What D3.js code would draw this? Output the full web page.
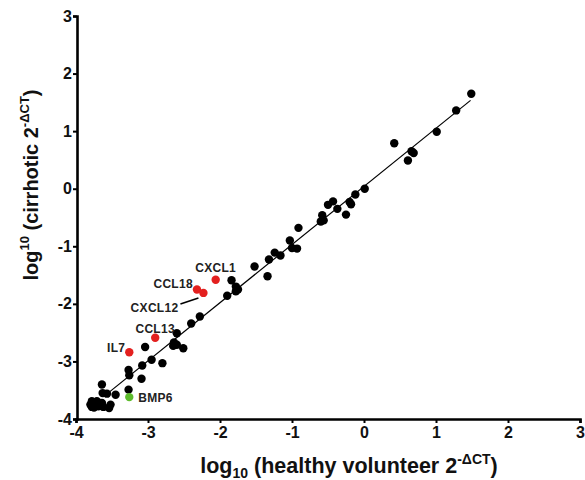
<!DOCTYPE html>
<html>
<head>
<meta charset="utf-8">
<script src="https://cdn.jsdelivr.net/npm/d3@7"></script>
<style>
    body { margin: 0; background: #fff; }
    svg { font-family: "Liberation Sans", Arial, sans-serif; font-weight: bold; }
</style>
</head>
<body>
<script>
// log10 values: healthy volunteer (x) vs cirrhotic (y)
const genesX = [1.49, 1.28, 1.01, 0.42, 0.66, 0.69, 0.61, 0.01, -0.12, -0.20, -0.18, -0.25, -0.37, -0.43, -0.50,
    -0.58, -0.60, -0.56, -0.91, -1.03, -1.00, -0.93, -1.24, -1.16, -1.32, -1.52, -1.34, -1.84, -1.78, -1.75,
    -1.78, -1.90, -2.28, -2.40, -2.60, -2.64, -2.60, -2.65, -2.51, -3.04, -2.95, -3.08, -2.80, -3.27, -3.26,
    -3.09, -3.27, -3.64, -3.63, -3.57, -3.45, -3.78, -3.73, -3.78, -3.69, -3.62, -3.54, -3.71, -3.64, -3.80,
    -3.75, -3.52];
const genesY = [1.65, 1.36, 0.99, 0.79, 0.65, 0.62, 0.49, 0.00, -0.10, -0.23, -0.27, -0.45, -0.35, -0.22, -0.28,
    -0.46, -0.57, -0.55, -0.68, -0.90, -1.03, -1.04, -1.11, -1.16, -1.23, -1.35, -1.52, -1.59, -1.70, -1.75,
    -1.78, -1.86, -2.22, -2.34, -2.51, -2.67, -2.71, -2.73, -2.77, -2.75, -2.97, -3.07, -3.03, -3.15, -3.24,
    -3.30, -3.49, -3.40, -3.55, -3.56, -3.58, -3.69, -3.74, -3.79, -3.78, -3.79, -3.81, -3.69, -3.72, -3.75,
    -3.80, -3.75];

// highlighted genes
const hiNames = ['CXCL1', 'CCL18', 'CXCL12', 'CCL13', 'IL7', 'BMP6'];
const hiX = [-2.06, -2.32, -2.23, -2.90, -3.26, -3.26];
const hiY = [-1.58, -1.75, -1.81, -2.59, -2.84, -3.62];
const hiUp = [true, true, true, true, true, false];   // up = red, down = green

// fitted line
const fitX = [-3.62, 1.48];
const fitSlope = 1.01;
const fitIntercept = 0.04;

const axisTicks = [-4, -3, -2, -1, 0, 1, 2, 3];

const width = 585, height = 480;

let x = d3.scaleLinear().domain([-4, 3]).range([76, 580]),
    y = d3.scaleLinear().domain([-4, 3]).range([419, 16]);

let svg = d3.select('body').append('svg')
    .attr('width', width)
    .attr('height', height);

// axes
let xAxis = d3.axisBottom(x).tickValues(axisTicks).tickFormat(d3.format('d')).tickSize(4).tickPadding(4),
    yAxis = d3.axisLeft(y).tickValues(axisTicks).tickFormat(d3.format('d')).tickSize(4).tickPadding(1);

let gx = svg.append('g').attr('transform', `translate(0, ${y(-4)})`).call(xAxis);
let gy = svg.append('g').attr('transform', `translate(${x(-4) + 1}, 0)`).call(yAxis);

[gx, gy].forEach(g => {
    g.select('.domain').attr('stroke', '#000').attr('stroke-width', 2.6);
    g.selectAll('.tick line').attr('stroke', '#000').attr('stroke-width', 2);
    g.selectAll('.tick text')
        .attr('fill', '#111')
        .style('font-size', '16px')
        .style('font-weight', 'bold')
        .style('font-family', '"Liberation Sans", Arial, sans-serif');
});
// plain hyphen instead of unicode minus, like the original
svg.selectAll('.tick text').text(d => String(d));

// regression line
let fitLine = d3.line()
    .x(d => x(d))
    .y(d => y(fitSlope * d + fitIntercept));

svg.append('path')
    .attr('d', fitLine(fitX))
    .attr('fill', 'none')
    .attr('stroke', '#000')
    .attr('stroke-width', 1.2);

// black points
let pts = genesX.map((v, i) => ({ x: v, y: genesY[i] }));
svg.append('g').selectAll('circle')
    .data(pts)
    .join('circle')
    .attr('cx', d => x(d.x))
    .attr('cy', d => y(d.y))
    .attr('r', 4.2)
    .attr('fill', '#000');

// highlighted points
let hi = hiNames.map((n, i) => ({ name: n, x: hiX[i], y: hiY[i], up: hiUp[i] }));
svg.append('g').selectAll('circle')
    .data(hi)
    .join('circle')
    .attr('cx', d => x(d.x))
    .attr('cy', d => y(d.y))
    .attr('r', 4.2)
    .attr('fill', d => d.up ? '#e3201f' : '#5dbb2c');

// label placement (pixel offsets from each point)
const labelPlace = {
    CXCL1: { dx: 0, dy: -8, anchor: 'middle' },
    CCL18: { dx: -4, dy: -1.5, anchor: 'end' },
    CXCL12: { dx: -25, dy: 19, anchor: 'end' },
    CCL13: { dx: 0, dy: -5, anchor: 'middle' },
    IL7: { dx: -4, dy: 0, anchor: 'end' },
    BMP6: { dx: 9, dy: 5, anchor: 'start' }
};

svg.append('g').selectAll('text')
    .data(hi)
    .join('text')
    .attr('x', d => x(d.x) + labelPlace[d.name].dx)
    .attr('y', d => y(d.y) + labelPlace[d.name].dy)
    .attr('text-anchor', d => labelPlace[d.name].anchor)
    .attr('fill', '#222')
    .style('font-size', '12px')
    .style('letter-spacing', '0.3px')
    .text(d => d.name);

// leader for CXCL12
let c12 = hi.find(d => d.name === 'CXCL12');
svg.append('line')
    .attr('x1', x(c12.x) - 5)
    .attr('y1', y(c12.y) + 5)
    .attr('x2', x(c12.x) - 23)
    .attr('y2', y(c12.y) + 11)
    .attr('stroke', '#000')
    .attr('stroke-width', 1.5);

// axis titles
let xt = svg.append('text')
    .attr('x', 349)
    .attr('y', 473)
    .attr('text-anchor', 'middle')
    .attr('fill', '#111')
    .style('font-size', '21.5px');
xt.append('tspan').text('log');
xt.append('tspan').attr('dy', 5).style('font-size', '14px').text('10');
xt.append('tspan').attr('dy', -5).text(' (healthy volunteer 2');
xt.append('tspan').attr('dy', -9).style('font-size', '14px').text('-ΔCT');
xt.append('tspan').attr('dy', 9).text(')');

let yt = svg.append('text')
    .attr('transform', 'translate(38, 185) rotate(-90)')
    .attr('text-anchor', 'middle')
    .attr('fill', '#111')
    .style('font-size', '20px');
yt.append('tspan').text('log');
yt.append('tspan').attr('dy', -9).style('font-size', '13px').text('10');
yt.append('tspan').attr('dy', 9).text(' (cirrhotic 2');
yt.append('tspan').attr('dy', -9).style('font-size', '13px').text('-ΔCT');
yt.append('tspan').attr('dy', 9).text(')');
</script>
</body>
</html>
